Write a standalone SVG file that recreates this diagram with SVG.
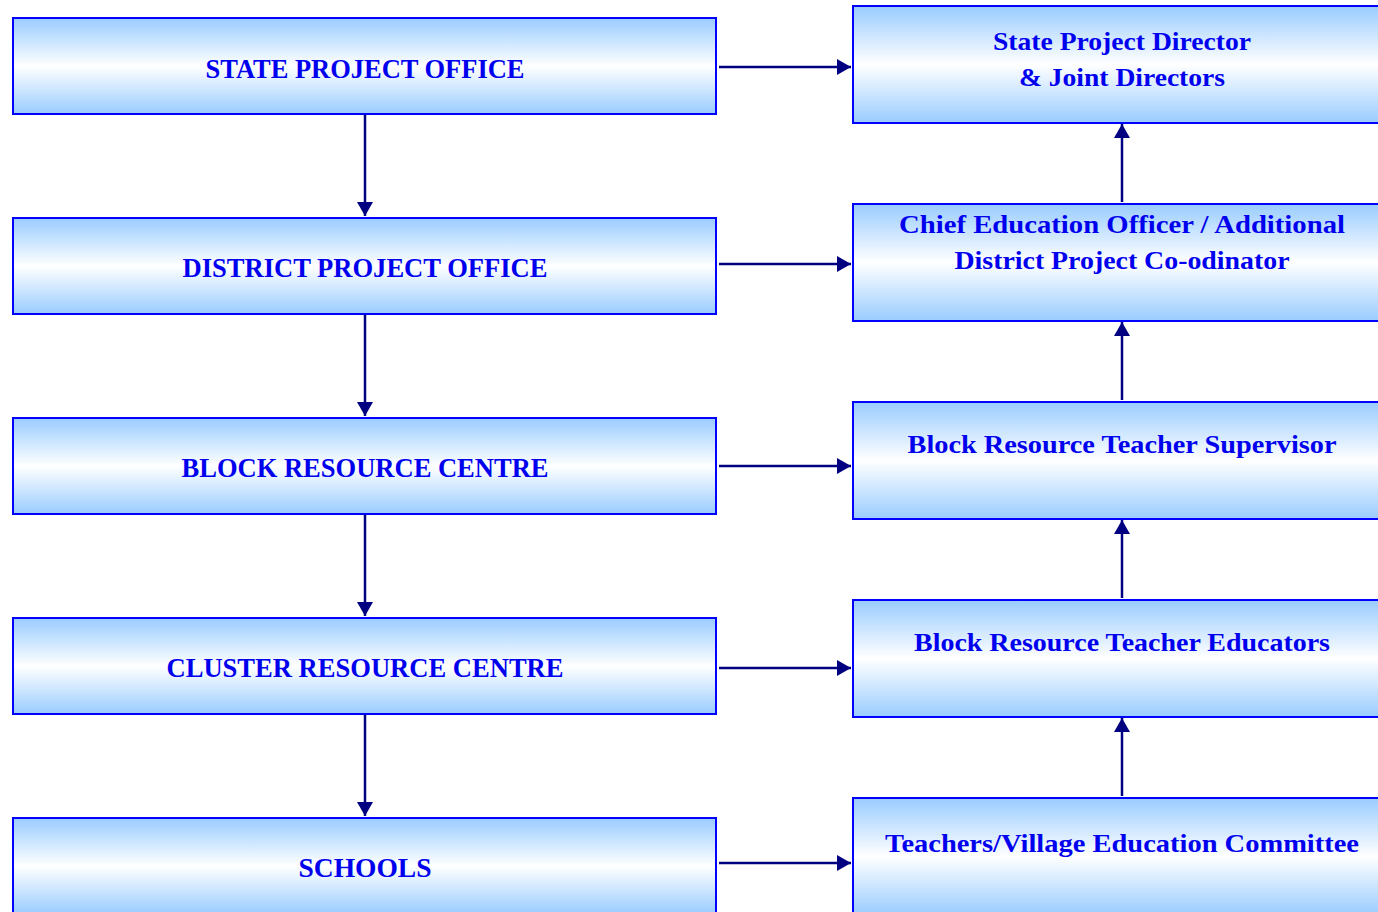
<svg xmlns="http://www.w3.org/2000/svg" width="1378" height="912" viewBox="0 0 1378 912">
<defs>
<linearGradient id="g" x1="0" y1="0" x2="0" y2="1">
<stop offset="0" stop-color="#99ccff"/>
<stop offset="0.5" stop-color="#ffffff"/>
<stop offset="1" stop-color="#99ccff"/>
</linearGradient>
<marker id="ah" viewBox="0 0 14 16" refX="14" refY="8" markerWidth="14" markerHeight="16" markerUnits="userSpaceOnUse" orient="auto">
<path d="M0,0 L14,8 L0,16 Z" fill="#000080"/>
</marker>
<style>
.box{fill:url(#g);stroke:#0000ff;stroke-width:2}
.t{font-family:"Liberation Serif","Times New Roman",serif;font-weight:bold;font-size:26px;fill:#0000ee;text-anchor:middle}
.l{font-size:28px}
.c{stroke:#000080;stroke-width:2.5;fill:none;marker-end:url(#ah)}
</style>
</defs>
<rect width="1378" height="912" fill="#ffffff"/>
<g id="connectors">
<line class="c" x1="365" y1="114" x2="365" y2="216"/>
<line class="c" x1="365" y1="314" x2="365" y2="416"/>
<line class="c" x1="365" y1="514" x2="365" y2="616"/>
<line class="c" x1="365" y1="714" x2="365" y2="816"/>
<line class="c" x1="719" y1="67" x2="851" y2="67"/>
<line class="c" x1="719" y1="264" x2="851" y2="264"/>
<line class="c" x1="719" y1="466" x2="851" y2="466"/>
<line class="c" x1="719" y1="668" x2="851" y2="668"/>
<line class="c" x1="719" y1="863" x2="851" y2="863"/>
<line class="c" x1="1122" y1="202" x2="1122" y2="124"/>
<line class="c" x1="1122" y1="400" x2="1122" y2="322"/>
<line class="c" x1="1122" y1="598" x2="1122" y2="520"/>
<line class="c" x1="1122" y1="796" x2="1122" y2="718"/>
</g>
<g id="state-project-office"><rect class="box" x="13" y="18" width="703" height="96"/><text class="t l" x="365" y="78" textLength="319" lengthAdjust="spacingAndGlyphs">STATE PROJECT OFFICE</text></g>
<g id="district-project-office"><rect class="box" x="13" y="218" width="703" height="96"/><text class="t l" x="365" y="277" textLength="365" lengthAdjust="spacingAndGlyphs">DISTRICT PROJECT OFFICE</text></g>
<g id="block-resource-centre"><rect class="box" x="13" y="418" width="703" height="96"/><text class="t l" x="365" y="477" textLength="367" lengthAdjust="spacingAndGlyphs">BLOCK RESOURCE CENTRE</text></g>
<g id="cluster-resource-centre"><rect class="box" x="13" y="618" width="703" height="96"/><text class="t l" x="365" y="677" textLength="397" lengthAdjust="spacingAndGlyphs">CLUSTER RESOURCE CENTRE</text></g>
<g id="schools"><rect class="box" x="13" y="818" width="703" height="96"/><text class="t l" x="365" y="877" textLength="133" lengthAdjust="spacingAndGlyphs">SCHOOLS</text></g>
<g id="state-project-director"><rect class="box" x="853" y="6" width="530" height="117"/><text class="t" x="1122" y="50" textLength="258" lengthAdjust="spacingAndGlyphs">State Project Director</text><text class="t" x="1122" y="86" textLength="206" lengthAdjust="spacingAndGlyphs">&amp; Joint Directors</text></g>
<g id="chief-education-officer"><rect class="box" x="853" y="204" width="530" height="117"/><text class="t" x="1122" y="233" textLength="446" lengthAdjust="spacingAndGlyphs">Chief Education Officer / Additional</text><text class="t" x="1122" y="269" textLength="335" lengthAdjust="spacingAndGlyphs">District Project Co-odinator</text></g>
<g id="brt-supervisor"><rect class="box" x="853" y="402" width="530" height="117"/><text class="t" x="1122" y="453" textLength="429" lengthAdjust="spacingAndGlyphs">Block Resource Teacher Supervisor</text></g>
<g id="brt-educators"><rect class="box" x="853" y="600" width="530" height="117"/><text class="t" x="1122" y="651" textLength="416" lengthAdjust="spacingAndGlyphs">Block Resource Teacher Educators</text></g>
<g id="teachers-vec"><rect class="box" x="853" y="798" width="530" height="117"/><text class="t" x="1122" y="852" textLength="474" lengthAdjust="spacingAndGlyphs">Teachers/Village Education Committee</text></g>
</svg>
